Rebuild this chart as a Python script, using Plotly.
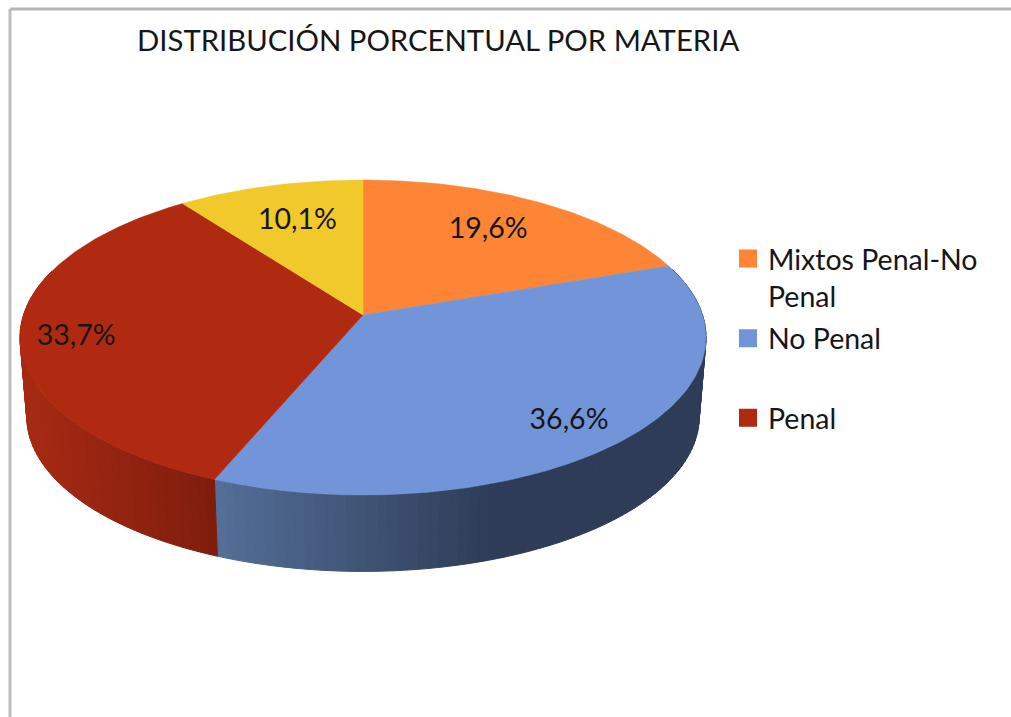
import math
import plotly.graph_objects as go

# ---- data -------------------------------------------------------------
SLICE_NAMES = ["Mixtos Penal-No Penal", "No Penal", "Penal", "Otros"]
SLICE_VALUES = [19.6, 36.6, 33.7, 10.1]
LEGEND_TEXTS = ["Mixtos Penal-No<br>Penal", "No Penal<br> ", "Penal"]
TITLE = "DISTRIBUCIÓN PORCENTUAL POR MATERIA"

# ---- styles -----------------------------------------------------------
TOP_COLORS = ["#FD8535", "#7295D9", "#B02A11", "#F1C92B"]
WALL_STOPS = {1: ((217, (84, 110, 151)), (490, (46, 60, 88))),
              2: ((27, (166, 41, 18)), (216, (126, 29, 13)))}
LABEL_RADII = [0.72, 0.80, 0.85, 0.72]
LABEL_SHIFTS = [(-5, 0), (2, 9), (4, 7), (4, 3)]
FONT = "Lato"
TEXT = "#161616"
W, H = 1011, 717

# projective view of the pie disc
CX, CY, RX, RY, K = 363.0, 315.0, 339.5, 154.3, 1 / 7
WALL_SCALE, WALL_DROP = 0.98, 80.0


def project(theta_deg, r=1.0, scale=1.0, drop=0.0):
    t = math.radians(theta_deg)
    sx, cy = r * math.sin(t), r * math.cos(t)
    w = 1 + K * cy
    return CX + scale * RX * sx / w, CY + drop - scale * RY * cy / w


def arc(a, b, step=1.0, **kw):
    n = max(2, int(abs(b - a) / step) + 1)
    return [project(a + (b - a) * i / (n - 1), **kw) for i in range(n)]


total = sum(SLICE_VALUES)
edges = [0.0]
for v in SLICE_VALUES:
    edges.append(edges[-1] + v / total * 360)

fig = go.Figure()

# side walls, back to front
for idx in (1, 2):
    (x0, c0), (x1, c1) = WALL_STOPS[idx]
    a, b = edges[idx], edges[idx + 1]
    n = max(2, int((b - a) / 1.5))
    for i in range(n):
        ta, tb = a + (b - a) * i / n, a + (b - a) * (i + 1) / n
        mid = (ta + tb) / 2
        if math.cos(math.radians(mid)) > 0.3:
            continue
        top = arc(ta, tb, 0.5)
        bot = arc(tb, ta, 0.5, scale=WALL_SCALE, drop=WALL_DROP)
        poly = top + bot + top[:1]
        mx = project(mid)[0]
        f = min(1, max(0, (mx - x0) / (x1 - x0)))
        col = "rgb(%d,%d,%d)" % tuple(round(p + (q - p) * f) for p, q in zip(c0, c1))
        fig.add_trace(go.Scatter(x=[p[0] for p in poly], y=[p[1] for p in poly],
                                 mode="lines", fill="toself", fillcolor=col,
                                 line=dict(color=col, width=1),
                                 showlegend=False, hoverinfo="skip"))

# top slices
for i, name in enumerate(SLICE_NAMES):
    poly = [(CX, CY)] + arc(edges[i], edges[i + 1]) + [(CX, CY)]
    fig.add_trace(go.Scatter(x=[p[0] for p in poly], y=[p[1] for p in poly],
                             mode="lines", fill="toself", fillcolor=TOP_COLORS[i],
                             line=dict(color=TOP_COLORS[i], width=0.5), name=name,
                             showlegend=False, hoverinfo="name"))

# percentage labels
for i, v in enumerate(SLICE_VALUES):
    x, y = project((edges[i] + edges[i + 1]) / 2, r=LABEL_RADII[i])
    fig.add_trace(go.Scatter(x=[x + LABEL_SHIFTS[i][0]], y=[y + LABEL_SHIFTS[i][1]], mode="text",
                             text=[f"{v:.1f}%".replace(".", ",")],
                             textposition="middle center",
                             textfont=dict(family=FONT, size=28.5, color=TEXT),
                             showlegend=False, hoverinfo="skip"))

# legend entries
for txt, col in zip(LEGEND_TEXTS, TOP_COLORS):
    fig.add_trace(go.Scatter(x=[None], y=[None], mode="markers", name=txt, legendgroup=txt,
                             marker=dict(symbol="square", size=16, color=col,
                                         line=dict(color=col, width=2))))

fig.update_layout(
    width=W, height=H, margin=dict(l=0, r=0, t=0, b=0),
    paper_bgcolor="white", plot_bgcolor="white",
    xaxis=dict(range=[0, W], visible=False),
    yaxis=dict(range=[H, 0], visible=False),
    title=dict(text=TITLE, x=137 / W, xanchor="left", y=1 - 41 / H, yanchor="middle",
               font=dict(family=FONT, size=29.3, color=TEXT)),
    legend=dict(x=728 / W, xanchor="left", y=1 - 233.5 / H, yanchor="top",
                font=dict(family=FONT, size=28.5, color=TEXT),
                itemsizing="trace", itemwidth=30, valign="top", tracegroupgap=2.5,
                bgcolor="rgba(0,0,0,0)"),
    shapes=[
        dict(type="line", xref="x", yref="y", x0=10, x1=W, y0=9, y1=9,
             line=dict(color="#B2B5B9", width=3)),
        dict(type="line", xref="x", yref="y", x0=10, x1=10, y0=9, y1=H,
             line=dict(color="#B9BDC1", width=3)),
    ],
)
fig.write_html("out.html", config={"displayModeBar": False},
               post_script="document.body.style.margin='0';")
